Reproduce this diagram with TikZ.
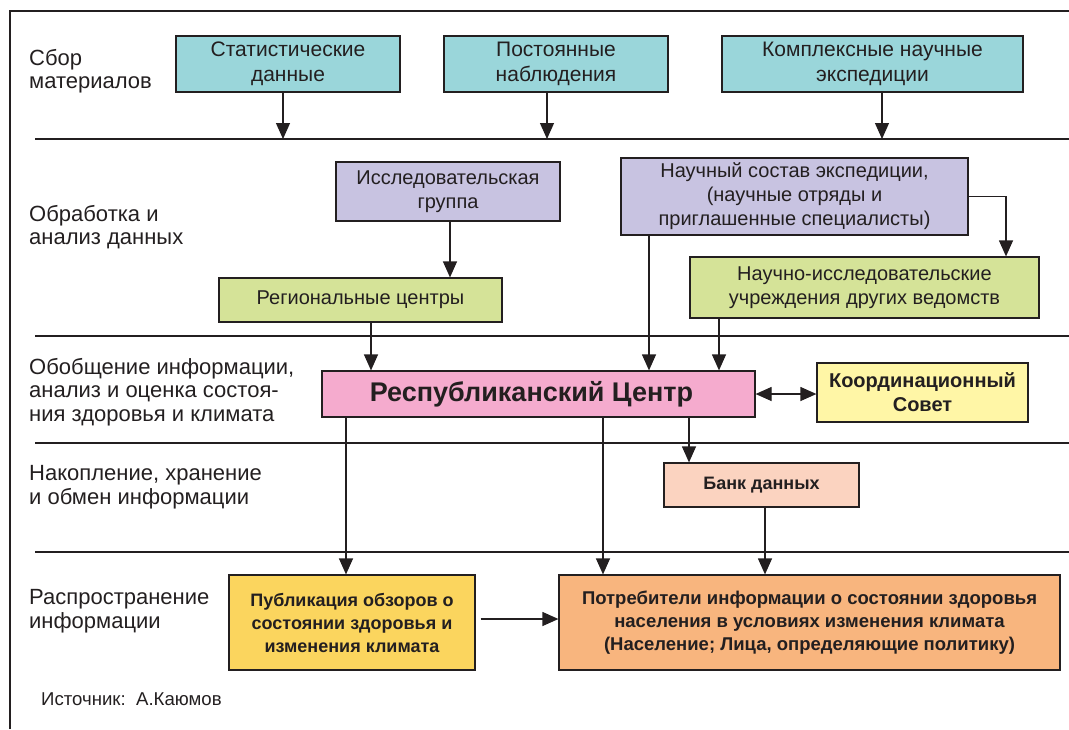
\documentclass[tikz,border=0pt]{standalone}
\usepackage{fontspec}
\setmainfont{Liberation Sans}
\usetikzlibrary{arrows.meta}
\definecolor{ink}{HTML}{231F20}
\definecolor{cyanb}{HTML}{9AD6DA}
\definecolor{lavb}{HTML}{C8C3E1}
\definecolor{greenb}{HTML}{D5E398}
\definecolor{pinkb}{HTML}{F5ABCE}
\definecolor{yelb}{HTML}{FFF6A6}
\definecolor{peachb}{HTML}{FBD3C0}
\definecolor{goldb}{HTML}{FBD55E}
\definecolor{orangeb}{HTML}{F8B57E}
\tikzset{
  box/.style={draw=ink, line width=1.2pt, inner sep=0pt, align=center, text=ink,
              font=\fontsize{20}{24}\selectfont},
  lbl/.style={anchor=west, align=left, inner sep=0pt, text=ink,
              font=\fontsize{22}{23.5}\selectfont},
  sep/.style={draw=ink, line width=1.2pt},
  arr/.style={draw=ink, line width=1.2pt, -{Triangle[length=16pt,width=14pt]}},
  arrtwo/.style={draw=ink, line width=1.2pt, {Triangle[length=16pt,width=14pt]}-{Triangle[length=16pt,width=14pt]}},
  conn/.style={draw=ink, line width=1.2pt}
}
\begin{document}
\begin{tikzpicture}[x=1pt,y=-1pt]
\useasboundingbox (0,0) rectangle (1069,729);
% frame
\draw[sep] (10,729) -- (10,11) -- (1069,11);
% separator lines
\coordinate (s1) at (35,139);
\coordinate (s2) at (35,336);
\coordinate (s3) at (35,443);
\coordinate (s4) at (35,552);
\foreach \s in {s1,s2,s3,s4} \draw[sep] (\s) -- (\s -| 1069,0);

% left labels
\node[lbl] (l1) at (29,71) {Сбор\\материалов};
\node[lbl] (l2) at (29,227) {Обработка и\\анализ данных};
\node[lbl] (l3) at (29,392) {Обобщение информации,\\анализ и оценка состоя-\\ния здоровья и климата};
\node[lbl] (l4) at (29,487) {Накопление, хранение\\и обмен информации};
\node[lbl] (l5) at (29,611) {Распространение\\информации};
\node[anchor=base west, inner sep=0pt, text=ink, font=\fontsize{18.6}{20}\selectfont] (src) at (41,705) {Источник:\ \ А.Каюмов};

% row 1
\node[box, fill=cyanb, minimum width=224pt, minimum height=56pt, font=\fontsize{21}{25}\selectfont] (stat) at (288,64) {Статистические\\данные};
\node[box, fill=cyanb, minimum width=224pt, minimum height=56pt, font=\fontsize{21}{25}\selectfont] (nabl) at (556,64) {Постоянные\\наблюдения};
\node[box, fill=cyanb, minimum width=301pt, minimum height=56pt, font=\fontsize{21}{25}\selectfont] (exped) at (872.5,64) {Комплексные научные\\экспедиции};

% row 2
\node[box, fill=lavb, minimum width=224pt, minimum height=59pt] (grp) at (448,191.5) {Исследовательская\\группа};
\node[box, fill=lavb, minimum width=347pt, minimum height=77pt] (sost) at (794.5,196.5) {Научный состав экспедиции,\\(научные отряды и\\приглашенные специалисты)};
\node[box, fill=greenb, minimum width=283pt, minimum height=44pt] (reg) at (360.5,300) {Региональные центры};
\node[box, fill=greenb, minimum width=349pt, minimum height=61pt] (inst) at (864.5,287.5) {Научно-исследовательские\\учреждения других ведомств};

% row 3
\node[box, fill=pinkb, minimum width=433pt, minimum height=46pt, font=\bfseries\fontsize{27}{30}\selectfont] (resp) at (538.5,394) {Республиканский Центр\hspace*{14pt}};
\node[box, fill=yelb, minimum width=211pt, minimum height=59pt, font=\bfseries\fontsize{20}{24}\selectfont] (sovet) at (922.5,392.5) {Координационный\\Совет};

% row 4
\node[box, fill=peachb, minimum width=195pt, minimum height=44pt, font=\bfseries\fontsize{18}{22}\selectfont] (bank) at (761.5,485) {Банк данных};

% row 5
\node[box, fill=goldb, minimum width=246pt, minimum height=95pt, font=\bfseries\fontsize{18}{23}\selectfont] (publ) at (352,622.5) {Публикация обзоров о\\состоянии здоровья и\\изменения климата};
\node[box, fill=orangeb, minimum width=501pt, minimum height=95pt, font=\bfseries\fontsize{18.5}{23}\selectfont] (potr) at (809.5,622.5) {Потребители информации о состоянии здоровья\\населения в условиях изменения климата\\(Население; Лица, определяющие политику)};

% x positions of connectors
\coordinate (xa) at (283,0);
\coordinate (xb) at (547,0);
\coordinate (xc) at (882,0);
\coordinate (xd) at (450,0);
\coordinate (xe) at (1006,0);
\coordinate (xf) at (371,0);
\coordinate (xg) at (649,0);
\coordinate (xh) at (719,0);
\coordinate (xi) at (346,0);
\coordinate (xj) at (603,0);
\coordinate (xk) at (689,0);
\coordinate (xl) at (765,0);
\coordinate (yp) at (0,619);

% connectors
\draw[arr] (stat.south -| xa) -- (s1 -| xa);
\draw[arr] (nabl.south -| xb) -- (s1 -| xb);
\draw[arr] (exped.south -| xc) -- (s1 -| xc);
\draw[arr] (grp.south -| xd) -- (reg.north -| xd);
\draw[arr] (sost.east) -| (inst.north -| xe);
\draw[arr] (reg.south -| xf) -- (resp.north -| xf);
\draw[arr] (sost.south -| xg) -- (resp.north -| xg);
\draw[arr] (inst.south -| xh) -- (resp.north -| xh);
\draw[arrtwo] (resp.east) -- (sovet.west |- resp.east);
\draw[arr] (resp.south -| xi) -- (publ.north -| xi);
\draw[arr] (resp.south -| xj) -- (potr.north -| xj);
\draw[arr] (resp.south -| xk) -- (bank.north -| xk);
\draw[arr] (bank.south -| xl) -- (potr.north -| xl);
\draw[arr] ([xshift=5pt]publ.east |- yp) -- (potr.west |- yp);
\end{tikzpicture}
\end{document}
